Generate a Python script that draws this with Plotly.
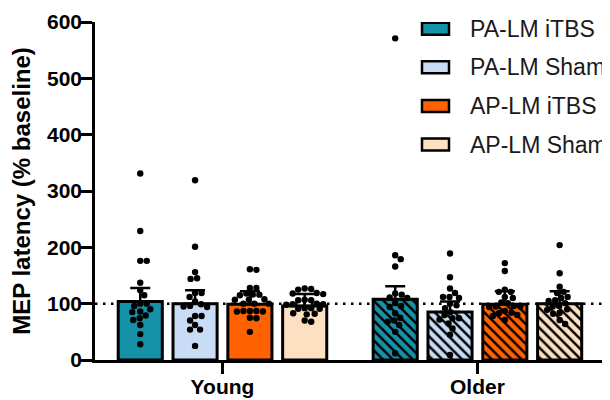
import plotly.graph_objects as go

# ---------------- data ----------------
groups = ["Young", "Older"]
conditions = ["PA-LM iTBS", "PA-LM Sham", "AP-LM iTBS", "AP-LM Sham"]
colors = ["#1592a8", "#c8dcf5", "#ff6200", "#fde0c2"]

means_young = [104, 100, 99, 96]
sem_young = [24, 24, 23, 21]
means_older = [108, 85, 99, 100]
sem_older = [23, 19, 23, 22]

young_pa_itbs = [331, 229, 176, 176, 137, 124, 115, 100, 100, 96, 90, 86, 85, 79, 74, 71, 62, 46, 28]
young_pa_sham = [319, 201, 156, 145, 144, 119, 119, 112, 104, 99, 96, 94, 95, 78, 78, 70, 62, 54, 54, 25]
young_ap_itbs = [161, 160, 128, 128, 118, 116, 116, 115, 107, 107, 108, 100, 100, 100, 87, 87, 86, 87, 86, 74, 75, 50]
young_ap_sham = [127, 126, 125, 118, 119, 117, 106, 107, 106, 100, 99, 98, 99, 92, 91, 92, 91, 82, 83, 81, 68, 70]

older_pa_itbs = [571, 186, 179, 166, 118, 116, 111, 110, 101, 96, 94, 83, 75, 70, 68, 62, 50, 12]
older_pa_sham = [189, 147, 127, 119, 112, 112, 110, 100, 97, 92, 85, 80, 74, 74, 72, 65, 56, 45, 9]
older_ap_itbs = [172, 158, 125, 121, 121, 112, 110, 102, 101, 96, 95, 95, 94, 87, 84, 83, 80, 78, 71]
older_ap_sham = [204, 154, 130, 121, 119, 112, 110, 106, 105, 101, 96, 95, 90, 89, 84, 82, 71, 64]

young_points = [young_pa_itbs, young_pa_sham, young_ap_itbs, young_ap_sham]
older_points = [older_pa_itbs, older_pa_sham, older_ap_itbs, older_ap_sham]

# ---------------- geometry ----------------
OFF = 8                      # default body margin of the html page
W, H = 610 - OFF, 400 - OFF
M_L, M_R, M_T, M_B = 95 - OFF, 0, 22 - OFF, 40
X_RANGE = [-0.5, 1.52]
Y_RANGE = [0, 600]
PX_X = (W - M_L - M_R) / (X_RANGE[1] - X_RANGE[0])
PX_Y = (H - M_T - M_B) / (Y_RANGE[1] - Y_RANGE[0])
STEP = 0.215
BAR_W = 0.173
DOT = 6.4
FONT = "Liberation Sans, Arial, sans-serif"


def page_x(px):
    return X_RANGE[0] + (px - OFF - M_L) / PX_X


def page_y(py):
    return (H - M_B - (py - OFF)) / PX_Y


def swarm(vals, center):
    order = sorted(range(len(vals)), key=lambda i: -vals[i])
    placed = []
    xs = [0.0] * len(vals)
    for i in order:
        y = vals[i] * PX_Y
        chosen = None
        for k in range(0, 80):
            cands = [0.0] if k == 0 else [k * 0.5, -k * 0.5]
            for dx in cands:
                if abs(dx) > 19:
                    continue
                if all((dx - px) ** 2 + (y - py) ** 2 >= DOT * DOT for px, py in placed):
                    chosen = dx
                    break
            if chosen is not None:
                break
        if chosen is None:
            best, bd = 0.0, -1
            for k in range(-38, 39):
                dx = k * 0.5
                d = min(((dx - px) ** 2 + (y - py) ** 2) for px, py in placed)
                if d > bd:
                    bd, best = d, dx
            chosen = best
        placed.append((chosen, y))
        xs[i] = center + chosen / PX_X
    return xs


fig = go.Figure()

for i, cond in enumerate(conditions):
    offs = (i - 1.5) * STEP
    fig.add_trace(go.Bar(
        x=[0 + offs, 1 + offs],
        y=[means_young[i], means_older[i]],
        width=BAR_W,
        name=cond,
        showlegend=False,
        marker=dict(
            color=colors[i],
            line=dict(color="black", width=3),
            pattern=dict(shape=["", "\\"], fgcolor="black", bgcolor=colors[i],
                         size=7, solidity=0.35, fillmode="replace"),
        ),
        error_y=dict(type="data", symmetric=False,
                     array=[sem_young[i], sem_older[i]], arrayminus=[0, 0],
                     color="black", thickness=2.5, width=10),
    ))

for i, cond in enumerate(conditions):
    offs = (i - 1.5) * STEP
    for g, pts in ((0, young_points[i]), (1, older_points[i])):
        fig.add_trace(go.Scatter(
            x=swarm(pts, g + offs), y=pts, mode="markers",
            marker=dict(color="black", size=DOT, line=dict(width=0)),
            showlegend=False, hoverinfo="y", cliponaxis=False,
        ))

# baseline dotted line
fig.add_shape(type="line", xref="paper", x0=0, x1=1, yref="y", y0=100, y1=100,
              line=dict(color="black", width=2.5, dash="2.5px,5.5px"), layer="below")

# manual legend
for i, (cond, col) in enumerate(zip(conditions, colors)):
    cy = 28.7 + i * 38.6
    fig.add_shape(type="rect", xref="x", yref="y",
                  x0=page_x(422), x1=page_x(449),
                  y0=page_y(cy + 6), y1=page_y(cy - 6),
                  line=dict(color="black", width=2.5), fillcolor=col, layer="above")
    fig.add_annotation(xref="x", yref="y", x=page_x(468), y=page_y(cy),
                       text=cond, showarrow=False, xanchor="left", yanchor="middle",
                       font=dict(family=FONT, size=23, color="#1a1a1a"))

fig.update_layout(
    width=W, height=H,
    margin=dict(l=M_L, r=M_R, t=M_T, b=M_B),
    template="none",
    paper_bgcolor="white", plot_bgcolor="white",
    barmode="overlay",
    showlegend=False,
    xaxis=dict(range=X_RANGE, tickvals=[0, 1], ticktext=groups,
               ticks="outside", ticklen=11, tickwidth=2.5, tickcolor="black",
               showline=True, linewidth=2.5, linecolor="black",
               showgrid=False, zeroline=False, automargin=False,
               ticklabelstandoff=-5,
               tickfont=dict(family=FONT, size=21, color="black", weight="bold")),
    yaxis=dict(range=Y_RANGE, tickvals=[0, 100, 200, 300, 400, 500, 600],
               ticks="outside", ticklen=12, tickwidth=2.5, tickcolor="black",
               showline=True, linewidth=2.5, linecolor="black",
               showgrid=False, zeroline=False, automargin=False,
               ticklabelstandoff=-6,
               tickfont=dict(family=FONT, size=21, color="black", weight="bold"),
               title=dict(text="MEP latency (% baseline)", standoff=14,
                          font=dict(family=FONT, size=24, color="black", weight="bold"))),
)

fig.write_html("out.html")
